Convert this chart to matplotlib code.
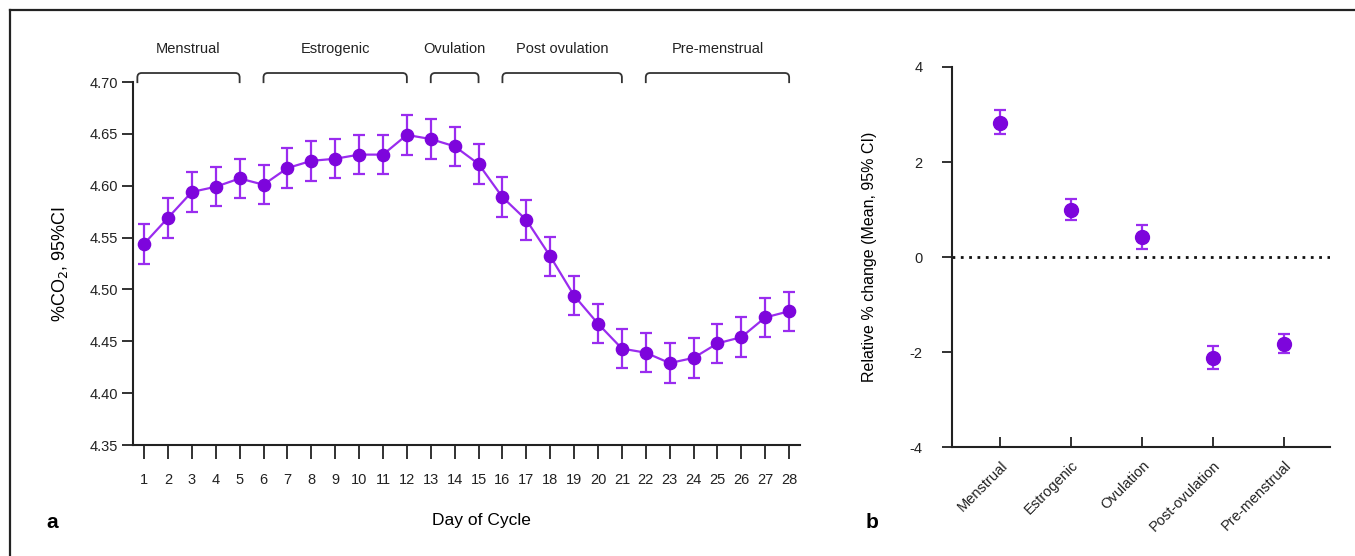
import numpy as np
import matplotlib
matplotlib.use('Agg')
import matplotlib.pyplot as plt
from matplotlib.path import Path
from matplotlib.patches import PathPatch
from matplotlib.lines import Line2D
import matplotlib.transforms as mtransforms

plt.rcParams['font.family'] = ['Liberation Sans', 'DejaVu Sans']

# panel a: mean %CO2 per day of cycle with 95% CI half-widths
days = np.arange(1, 29)
co2 = [4.544, 4.569, 4.594, 4.599, 4.607, 4.601, 4.617, 4.624, 4.626, 4.630,
       4.630, 4.649, 4.645, 4.638, 4.621, 4.589, 4.567, 4.532, 4.494, 4.467,
       4.443, 4.439, 4.429, 4.434, 4.448, 4.454, 4.473, 4.479]
co2_ci = [0.019, 0.019, 0.019, 0.019, 0.019, 0.019, 0.019, 0.019, 0.019, 0.019,
          0.019, 0.019, 0.019, 0.019, 0.019, 0.019, 0.019, 0.019, 0.019, 0.019,
          0.019, 0.019, 0.019, 0.019, 0.019, 0.019, 0.019, 0.019]

# phase brackets (first day, last day)
phase_names = ['Menstrual', 'Estrogenic', 'Ovulation', 'Post ovulation', 'Pre-menstrual']
phase_start = [0.72, 6, 13, 16, 22]
phase_end = [5, 12, 15, 21, 28]

# panel b: relative % change per phase
phases_b = ['Menstrual', 'Estrogenic', 'Ovulation', 'Post-ovulation', 'Pre-menstrual']
rel_mean = [2.83, 0.99, 0.43, -2.12, -1.83]
rel_low = [2.58, 0.77, 0.17, -2.36, -2.02]
rel_high = [3.09, 1.22, 0.68, -1.88, -1.63]

purple = '#7d05dc'
purple_err = '#9a2cef'

fig = plt.figure(figsize=(13.55, 5.56), dpi=100)

# ---- panel a
ax1 = fig.add_axes([0.0982, 0.1996, 0.4923, 0.6529])
ax1.errorbar(days, co2, yerr=co2_ci, color=purple_err, ecolor=purple_err,
             elinewidth=1.6, capsize=4, capthick=1.6, lw=1.6,
             marker='o', ms=8.8, mfc=purple, mec=purple, zorder=3)
ax1.set_xlim(0.54, 28.46)
ax1.set_ylim(4.35, 4.70)
ax1.set_xticks(days)
ax1.set_yticks([4.35, 4.40, 4.45, 4.50, 4.55, 4.60, 4.65, 4.70])
ax1.set_yticklabels(['4.35', '4.40', '4.45', '4.50', '4.55', '4.60', '4.65', '4.70'])
for s in ['top', 'right']:
    ax1.spines[s].set_visible(False)
for s in ['left', 'bottom']:
    ax1.spines[s].set_linewidth(1.5)
    ax1.spines[s].set_color('#222222')
ax1.tick_params(axis='x', direction='out', length=10, width=1.3, pad=10, labelsize=10.5, colors='#222222')
ax1.tick_params(axis='y', direction='out', length=8, width=1.3, pad=3, labelsize=10.5, colors='#222222')
ax1.set_ylabel('%CO$_2$, 95%CI', fontsize=13, labelpad=14)

# brackets above panel a
trans = mtransforms.blended_transform_factory(ax1.transData, ax1.transAxes)
y_top = 1.0248
y_bot = 0.997
rx = 0.18
ry = 0.012
for name, x0, x1 in zip(phase_names, phase_start, phase_end):
    verts = [(x0, y_bot), (x0, y_top - ry), (x0, y_top), (x0 + rx, y_top),
             (x1 - rx, y_top), (x1, y_top), (x1, y_top - ry), (x1, y_bot)]
    codes = [Path.MOVETO, Path.LINETO, Path.CURVE3, Path.CURVE3,
             Path.LINETO, Path.CURVE3, Path.CURVE3, Path.LINETO]
    ax1.add_patch(PathPatch(Path(verts, codes), transform=trans, fill=False,
                            lw=1.3, edgecolor='#333333', clip_on=False))
    ax1.text((x0 + x1) / 2, 1.09, name, transform=trans, ha='center', va='center',
             fontsize=10.5, color='#222222')

fig.text(481 / 1355, 1 - 521 / 556, 'Day of Cycle', ha='center', va='center', fontsize=12.5)
fig.text(52 / 1355, 1 - 523 / 556, 'a', ha='center', va='center', fontsize=15, fontweight='bold')

# ---- panel b
ax2 = fig.add_axes([0.7026, 0.196, 0.2790, 0.6835])
xb = np.arange(len(phases_b))
err = [np.array(rel_mean) - np.array(rel_low), np.array(rel_high) - np.array(rel_mean)]
ax2.errorbar(xb, rel_mean, yerr=err, fmt='o', color=purple, ecolor=purple_err,
             elinewidth=1.6, capsize=4, capthick=1.6, ms=10, zorder=3)
ax2.axhline(0, color='#111111', ls=(0, (1, 2)), lw=2)
ax2.set_xlim(-0.68, 4.65)
ax2.set_ylim(-4, 4)
ax2.set_yticks([-4, -2, 0, 2, 4])
ax2.set_yticklabels(['-4', '-2', '0', '2', '4'])
ax2.set_xticks(xb)
ax2.set_xticklabels(phases_b, rotation=45, ha='right', rotation_mode='anchor')
for s in ['top', 'right']:
    ax2.spines[s].set_visible(False)
for s in ['left', 'bottom']:
    ax2.spines[s].set_linewidth(1.5)
    ax2.spines[s].set_color('#222222')
ax2.tick_params(axis='x', direction='in', length=7, width=1.3, pad=8, labelsize=10.5, colors='#222222')
ax2.tick_params(axis='y', direction='out', length=7, width=1.3, pad=14, labelsize=10.5, colors='#222222')
ax2.set_ylabel('Relative % change (Mean, 95% CI)', fontsize=11.5, labelpad=24)

fig.text(872 / 1355, 1 - 523 / 556, 'b', ha='center', va='center', fontsize=15, fontweight='bold')

# outer frame (top and left edges)
fig.add_artist(Line2D([10 / 1355, 1], [1 - 10 / 556, 1 - 10 / 556], transform=fig.transFigure, color='#222222', lw=1.6))
fig.add_artist(Line2D([10 / 1355, 10 / 1355], [0, 1 - 10 / 556], transform=fig.transFigure, color='#222222', lw=1.6))

fig.savefig('out.png', dpi=100)
